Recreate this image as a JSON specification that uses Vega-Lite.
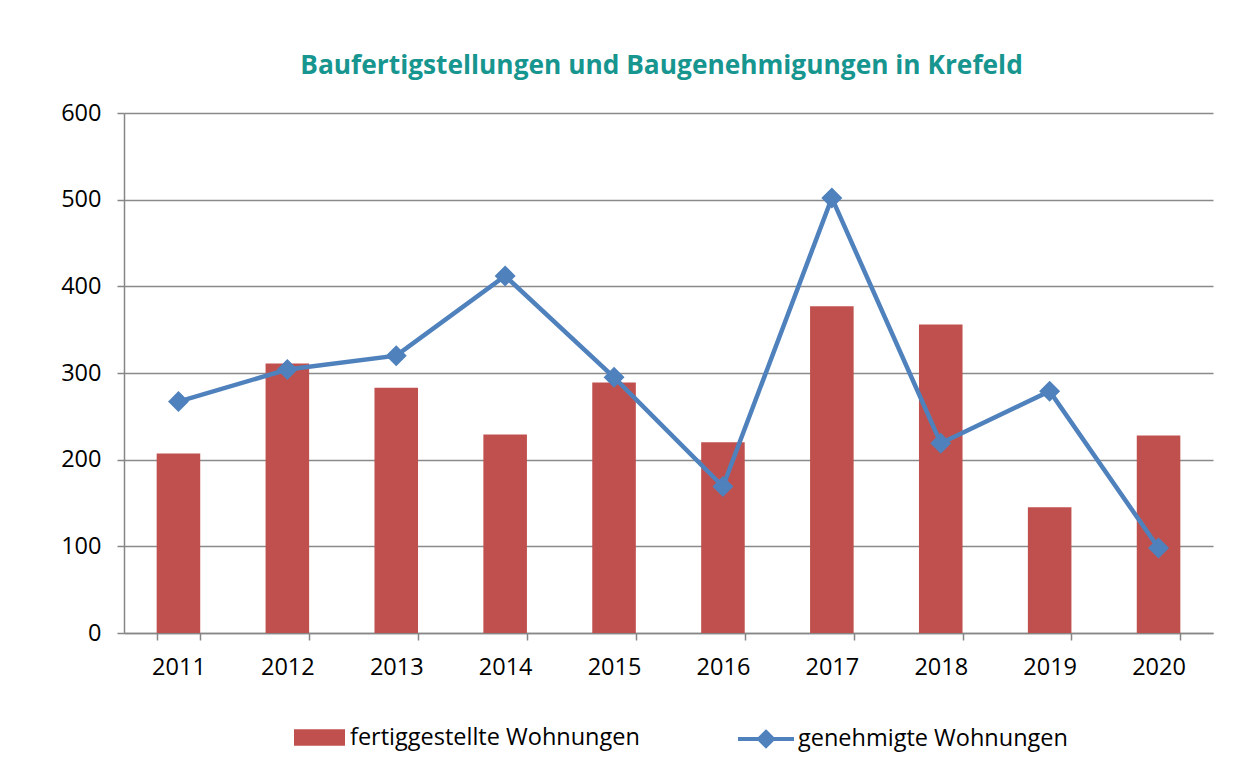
{
  "$schema": "https://vega.github.io/schema/vega-lite/v6.json",
  "autosize": {"type": "none"},
  "width": 1089,
  "height": 520,
  "padding": {"left": 124, "top": 113, "right": 42, "bottom": 141},
  "background": "white",
  "config": {
    "font": "Open Sans",
    "view": {"stroke": null},
    "axis": {
      "labelFont": "Open Sans",
      "labelFontSize": 23.5,
      "labelColor": "#000000",
      "domainColor": "#868686",
      "domainWidth": 1.5,
      "tickColor": "#868686",
      "tickWidth": 1.5,
      "tickSize": 7,
      "gridColor": "#8a8a8a",
      "gridWidth": 1.3,
      "title": null
    },
    "legend": {
      "labelFont": "Open Sans",
      "labelFontSize": 23.5,
      "labelColor": "#000000",
      "labelLimit": 0,
      "title": null
    }
  },
  "title": {
    "text": "Baufertigstellungen und Baugenehmigungen in Krefeld",
    "font": "Open Sans",
    "fontSize": 26.3,
    "fontWeight": "bold",
    "color": "#17958F",
    "anchor": "middle",
    "dx": -7,
    "offset": 22
  },
  "data": {
    "values": [
      {"jahr": "2011", "fertig": 207, "genehmigt": 267},
      {"jahr": "2012", "fertig": 311, "genehmigt": 304},
      {"jahr": "2013", "fertig": 283, "genehmigt": 320},
      {"jahr": "2014", "fertig": 229, "genehmigt": 412},
      {"jahr": "2015", "fertig": 289, "genehmigt": 295},
      {"jahr": "2016", "fertig": 220, "genehmigt": 169},
      {"jahr": "2017", "fertig": 377, "genehmigt": 502},
      {"jahr": "2018", "fertig": 356, "genehmigt": 219},
      {"jahr": "2019", "fertig": 145, "genehmigt": 279},
      {"jahr": "2020", "fertig": 228, "genehmigt": 98}
    ]
  },
  "encoding": {
    "x": {
      "field": "jahr",
      "type": "ordinal",
      "scale": {"paddingInner": 0.6, "paddingOuter": 0.3},
      "axis": {"labelAngle": 0, "tickBand": "extent", "labelPadding": 15, "grid": false}
    }
  },
  "layer": [
    {
      "mark": {"type": "bar"},
      "encoding": {
        "y": {
          "field": "fertig",
          "type": "quantitative",
          "scale": {"domain": [0, 600], "nice": false},
          "axis": {"values": [0, 100, 200, 300, 400, 500, 600], "labelPadding": 16, "grid": true}
        },
        "fill": {
          "datum": "fertiggestellte Wohnungen",
          "scale": {"range": ["#C0504D"]},
          "legend": {
            "orient": "none",
            "legendX": 170,
            "legendY": 599,
            "symbolType": "M-1,-0.32H1V0.32H-1Z",
            "symbolSize": 2601,
            "symbolStrokeWidth": 0,
            "labelOffset": 5
          }
        }
      }
    },
    {
      "mark": {
        "type": "line",
        "strokeWidth": 4.5,
        "point": {"shape": "diamond", "filled": true, "size": 330, "fill": "#4F81BD", "color": "#4F81BD"}
      },
      "encoding": {
        "y": {"field": "genehmigt", "type": "quantitative"},
        "stroke": {
          "datum": "genehmigte Wohnungen",
          "scale": {"range": ["#4F81BD"]},
          "legend": {
            "orient": "none",
            "legendX": 612,
            "legendY": 596,
            "symbolType": "M-1,0H1M0,-0.25L0.25,0L0,0.25L-0.25,0Z",
            "symbolSize": 3136,
            "symbolStrokeWidth": 4,
            "symbolFillColor": "#4F81BD",
            "labelOffset": 2
          }
        }
      }
    }
  ]
}
